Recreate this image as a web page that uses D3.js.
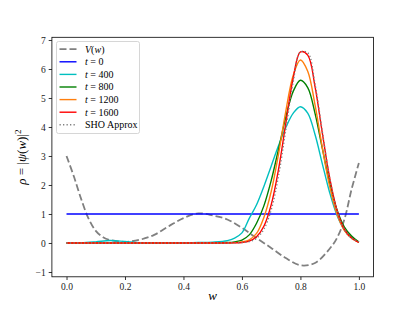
<!DOCTYPE html>
<html>
<head>
<meta charset="utf-8">
<script src="https://cdn.jsdelivr.net/npm/d3@7"></script>
<style>
  body { margin: 0; background: #fff; }
  text { font-family: "Liberation Serif", "DejaVu Serif", serif; }
</style>
</head>
<body>
<div id="chart"></div>
<script>
// grid of w for the density curves
var wGrid = [0, 0.05, 0.1, 0.15, 0.2, 0.25, 0.3, 0.35, 0.4, 0.45, 0.5,
  0.55, 0.575, 0.6, 0.625, 0.65, 0.675, 0.7, 0.725, 0.75, 0.775, 0.8,
  0.825, 0.85, 0.875, 0.9, 0.925, 0.95, 0.975, 1.0];

var rhoT0    = [1, 1, 1, 1, 1, 1, 1, 1, 1, 1, 1, 1, 1, 1, 1, 1, 1, 1, 1, 1, 1, 1, 1, 1, 1, 1, 1, 1, 1, 1];
var rhoT400  = [0, 0.005, 0.04, 0.085, 0.05, 0.012, 0.005, 0.005, 0.008, 0.015, 0.03,
  0.08, 0.17, 0.35, 0.85, 1.32, 1.95, 2.65, 3.35, 3.98, 4.47, 4.70,
  4.48, 3.74, 2.73, 1.74, 0.96, 0.47, 0.20, 0.03];
var rhoT800  = [0, 0, 0, 0.002, 0.002, 0, 0, 0, 0, 0.002, 0.005,
  0.015, 0.04, 0.10, 0.28, 0.68, 1.28, 2.15, 3.23, 4.34, 5.22, 5.61,
  5.36, 4.47, 3.26, 2.07, 1.15, 0.56, 0.24, 0.03];
var rhoT1200 = [0, 0, 0, 0, 0, 0, 0, 0, 0, 0, 0,
  0.003, 0.012, 0.04, 0.11, 0.33, 0.88, 1.77, 3.06, 4.54, 5.77, 6.31,
  5.92, 4.76, 3.29, 1.95, 0.995, 0.436, 0.164, 0.02];
var rhoT1600 = [0, 0, 0, 0, 0, 0, 0, 0, 0, 0, 0,
  0.001, 0.004, 0.018, 0.067, 0.214, 0.577, 1.314, 2.53, 4.12, 5.67, 6.59,
  6.48, 5.39, 3.79, 2.25, 1.13, 0.48, 0.17, 0.02];
var rhoSHO   = [0, 0, 0, 0, 0, 0, 0, 0, 0, 0, 0,
  0, 0.002, 0.012, 0.048, 0.165, 0.474, 1.14, 2.31, 3.90, 5.54, 6.58,
  6.56, 5.48, 3.84, 2.25, 1.11, 0.456, 0.158, 0.046];

// potential
var wV = [0, 0.025, 0.05, 0.075, 0.1, 0.125, 0.15, 0.2, 0.25, 0.3, 0.35, 0.4, 0.45,
  0.5, 0.55, 0.6, 0.65, 0.7, 0.75, 0.8, 0.85, 0.9, 0.925, 0.95, 0.975, 1.0];
var potV = [3.0, 2.3, 1.52, 0.85, 0.42, 0.2, 0.1, 0.04, 0.11, 0.28, 0.58, 0.86, 1.02,
  0.95, 0.81, 0.52, 0.17, -0.17, -0.52, -0.77, -0.69, -0.2, 0.17, 0.8, 1.85, 2.76];

var xTicks = [0, 0.2, 0.4, 0.6, 0.8, 1.0];
var yTicks = [-1, 0, 1, 2, 3, 4, 5, 6, 7];

var W = 415, H = 311;
var axL = 51.9, axR = 373.5, axT = 37.3, axB = 276.8;

var svg = d3.select("#chart").append("svg")
    .attr("width", W).attr("height", H);

var x = d3.scaleLinear().domain([-0.05, 1.05]).range([axL, axR]);
var y = d3.scaleLinear().domain([-1.166, 7.093]).range([axB, axT]);

svg.append("defs").append("clipPath").attr("id", "clip")
  .append("rect")
    .attr("x", axL).attr("y", axT)
    .attr("width", axR - axL).attr("height", axB - axT);

var line = d3.line()
    .x(function(d) { return x(d[0]); })
    .y(function(d) { return y(d[1]); })
    .curve(d3.curveCatmullRom);

function pairs(ws, vs) { return ws.map(function(w, i) { return [w, vs[i]]; }); }

// series, in drawing order
var series = [
  {label: "V", xs: wV, vs: potV, color: "#808080", width: 1.8, dash: "7,3"},
  {label: "0", xs: wGrid, vs: rhoT0, color: "#0000ff", width: 1.4},
  {label: "400", xs: wGrid, vs: rhoT400, color: "#00bfbf", width: 1.4},
  {label: "800", xs: wGrid, vs: rhoT800, color: "#008000", width: 1.4},
  {label: "1200", xs: wGrid, vs: rhoT1200, color: "#ff7f0e", width: 1.4},
  {label: "1600", xs: wGrid, vs: rhoT1600, color: "#ff0000", width: 1.4},
  {label: "SHO", xs: wGrid, vs: rhoSHO, color: "#808080", width: 1.4, dash: "1.3,2.2"}
];

var plot = svg.append("g").attr("clip-path", "url(#clip)");
series.forEach(function(s) {
  plot.append("path")
    .datum(pairs(s.xs, s.vs))
    .attr("d", line)
    .attr("fill", "none")
    .attr("stroke", s.color)
    .attr("stroke-width", s.width)
    .attr("stroke-dasharray", s.dash || null);
});

// axes
var xAxis = svg.append("g")
    .attr("transform", "translate(0," + axB + ")")
    .call(d3.axisBottom(x).tickValues(xTicks).tickFormat(d3.format(".1f"))
      .tickSize(3.2).tickPadding(3).tickSizeOuter(0));
var yAxis = svg.append("g")
    .attr("transform", "translate(" + axL + ",0)")
    .call(d3.axisLeft(y).tickValues(yTicks).tickFormat(d3.format("d"))
      .tickSize(3.2).tickPadding(3).tickSizeOuter(0));
[xAxis, yAxis].forEach(function(a) {
  a.select(".domain").remove();
  a.selectAll("line").attr("stroke", "#000").attr("stroke-width", 0.8);
  a.selectAll("text").style("font-size", "9.5px").attr("fill", "#222")
    .style("font-family", "\"Liberation Serif\", serif");
});

svg.append("rect")
    .attr("x", axL).attr("y", axT)
    .attr("width", axR - axL).attr("height", axB - axT)
    .attr("fill", "none").attr("stroke", "#000").attr("stroke-width", 0.8);

// axis labels
svg.append("text")
    .attr("x", (axL + axR) / 2).attr("y", 300)
    .attr("text-anchor", "middle")
    .style("font-size", "13px").style("font-style", "italic")
    .text("w");

var yl = svg.append("text")
    .attr("transform", "translate(26," + ((axT + axB) / 2) + ") rotate(-90)")
    .attr("text-anchor", "middle")
    .style("font-size", "13px");
yl.append("tspan").style("font-style", "italic").text("ρ");
yl.append("tspan").text(" = |");
yl.append("tspan").style("font-style", "italic").text("ψ");
yl.append("tspan").text("(");
yl.append("tspan").style("font-style", "italic").text("w");
yl.append("tspan").text(")|");
yl.append("tspan").attr("dy", -5).style("font-size", "9px").text("2");

// legend
var lg = svg.append("g");
lg.append("rect")
    .attr("x", 56.5).attr("y", 41.5).attr("width", 83).attr("height", 92)
    .attr("rx", 2).attr("fill", "#fff").attr("fill-opacity", 0.8)
    .attr("stroke", "#cccccc").attr("stroke-width", 0.8);

series.forEach(function(s, i) {
  var yy = 49.2 + i * 12.6;
  lg.append("line")
      .attr("x1", 59.5).attr("x2", 76.5).attr("y1", yy).attr("y2", yy)
      .attr("stroke", s.color).attr("stroke-width", s.width)
      .attr("stroke-dasharray", s.dash || null);
  var t = lg.append("text").attr("x", 85).attr("y", yy + 3.3)
      .style("font-size", "10px");
  if (s.label === "V") {
    t.append("tspan").style("font-style", "italic").text("V");
    t.append("tspan").text("(");
    t.append("tspan").style("font-style", "italic").text("w");
    t.append("tspan").text(")");
  } else if (s.label === "SHO") {
    t.text("SHO Approx");
  } else {
    t.append("tspan").style("font-style", "italic").text("t");
    t.append("tspan").text(" = " + s.label);
  }
});
</script>
</body>
</html>
